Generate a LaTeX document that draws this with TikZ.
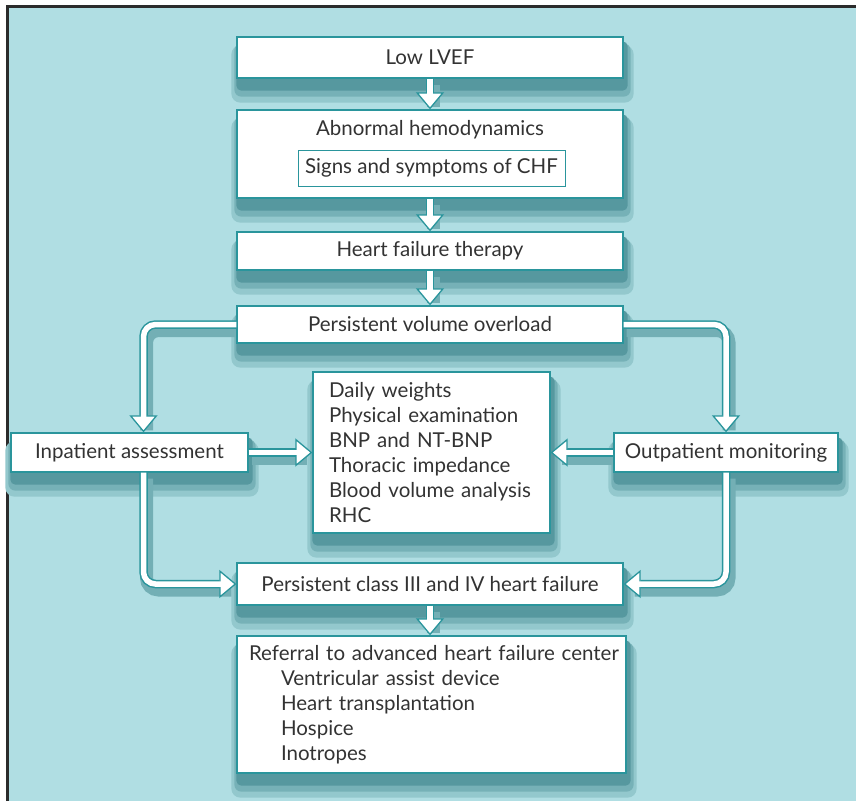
\documentclass[tikz,border=0pt]{standalone}
\usepackage{fontspec}
\setmainfont{Lato}
\usepackage{xcolor}
\usetikzlibrary{arrows.meta}
\usetikzlibrary{calc}
\definecolor{panel}{HTML}{B0DEE3}
\definecolor{rim}{HTML}{2A959C}
\definecolor{shade}{HTML}{1F6E76}
\definecolor{ink}{HTML}{333333}
\definecolor{framegray}{HTML}{2B2B2B}
\pgfdeclarelayer{back}
\pgfdeclarelayer{background}
\pgfsetlayers{back,background,main}
\tikzset{
	stepbox/.style={draw=rim,line width=1.3pt,fill=white,text=ink,inner sep=0pt,
		minimum width=386pt},
	innerbox/.style={draw=rim,line width=1pt,fill=white,text=ink,inner sep=0pt,
		minimum width=267pt,minimum height=36pt},
	label/.style={text=ink,inner sep=0pt},
	pipe/.style={draw=rim,line width=8.5pt,rounded corners=12pt,
		-{Triangle[width=28pt,length=17pt,fill=white,line width=1.3pt]}},
	pipecore/.style={draw=white,line width=5.5pt,rounded corners=12pt,shorten >=15pt},
	pipeshade/.style={draw=shade!42!panel,line width=13pt,rounded corners=12pt,shorten >=8pt,
		transform canvas={shift={(3,6)}}}
}
\newcommand{\pipeto}[1]{%
	\begin{pgfonlayer}{background}\draw[pipeshade] #1;\end{pgfonlayer}
	\draw[pipe] #1; \draw[pipecore] #1;}

\begin{document}
\begin{tikzpicture}[x=1pt,y=-1pt,font=\fontsize{20.5}{25}\selectfont]
	\useasboundingbox (0,0) rectangle (856,801);
	% panel
	\begin{pgfonlayer}{back}
		\fill[panel] (8,7) rectangle (856,801);
		\draw[framegray,line width=2.5pt] (7.5,801) |- (856,6.5);
	\end{pgfonlayer}

	% main column
	\node [stepbox,minimum height=41pt] (low) at (430,57.5) {Low LVEF};
	\node [stepbox,minimum height=88pt] (abn) at (430,154) {};
	\node [label] (abnt) at (430,130) {Abnormal hemodynamics};
	\node [innerbox] (chf) at (431.5,168) {Signs and symptoms of CHF};
	\node [stepbox,minimum height=38pt] (hft) at (430,251) {Heart failure therapy};
	\node [stepbox,minimum height=37pt] (pvo) at (430,324.5) {Persistent volume overload};

	% middle row
	\node [stepbox,minimum width=237pt,minimum height=39pt] (inp) at (129.5,452.5) {Inpatient assessment};
	\node [stepbox,minimum width=224pt,minimum height=39pt] (mon) at (726,452.5) {Outpatient monitoring};
	\node [stepbox,minimum width=237pt,minimum height=161pt,text width=205pt,align=left] (tests) at (431.5,452.5)
		{Daily weights\\Physical examination\\BNP and NT-BNP\\Thoracic impedance\\\mbox{Blood volume analysis}\\RHC};

	\node [stepbox,minimum height=42pt] (pcl) at (430,584) {Persistent class III and IV heart failure};
	\node [stepbox,minimum width=389pt,minimum height=137pt,text width=365pt,align=left] (ref) at (431.5,704.5)
		{\mbox{Referral to advanced heart failure center}\\
		\hspace*{32pt}Ventricular assist device\\
		\hspace*{32pt}Heart transplantation\\
		\hspace*{32pt}Hospice\\
		\hspace*{32pt}Inotropes};

	% soft shadows under the boxes
	\begin{pgfonlayer}{background}
		\foreach \n in {low,abn,hft,pvo,inp,mon,tests,pcl,ref}{
			\fill[shade!20!panel,rounded corners=9pt] ($(\n.north west)+(-5,9)$) rectangle ($(\n.south east)+(10,24)$);
			\fill[shade!40!panel,rounded corners=7pt] ($(\n.north west)+(-2,7)$) rectangle ($(\n.south east)+(7,18)$);
			\fill[shade!62!panel,rounded corners=5pt] ($(\n.north west)+(0,5)$) rectangle ($(\n.south east)+(4,12)$);
		}
	\end{pgfonlayer}

	% connectors
	\foreach \a/\b in {low/abn,abn/hft,hft/pvo,pcl/ref}
		{\pipeto{(\a.south) -- (\a.south |- \b.north)}}
	\pipeto{(pvo.west) -| ([xshift=14pt]inp.north)}
	\pipeto{(pvo.east) -| (mon.north)}
	\pipeto{(inp) -- (tests)}
	\pipeto{(mon) -- (tests)}
	\pipeto{([xshift=14pt]inp.south) |- (pcl.west)}
	\pipeto{(mon.south) |- (pcl.east)}
\end{tikzpicture}
\end{document}
